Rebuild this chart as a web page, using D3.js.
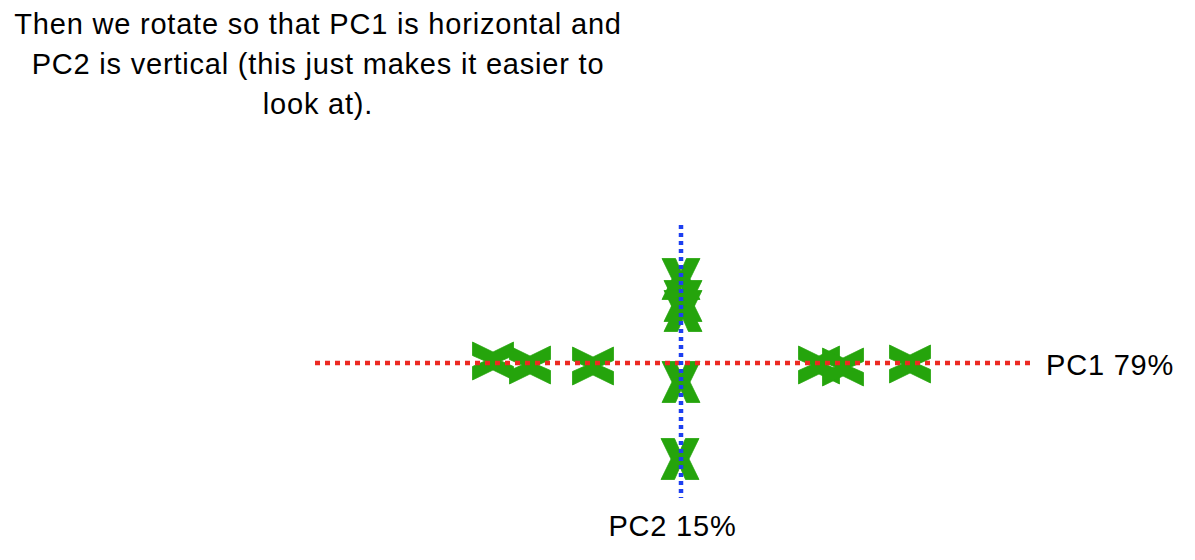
<!DOCTYPE html>
<html>
<head>
<meta charset="utf-8">
<script src="https://cdn.jsdelivr.net/npm/d3@7/dist/d3.min.js"></script>
<style>
  html, body { margin: 0; padding: 0; background: #fff; }
  svg { display: block; }
  text { font-family: "Liberation Sans", Arial, Helvetica, sans-serif; fill: #000; }
</style>
</head>
<body>
<svg id="chart" width="1195" height="560"></svg>
<script>
// ---- data ----
const titleLines = [
  "Then we rotate so that PC1 is horizontal and",
  "PC2 is vertical (this just makes it easier to",
  "look at)."
];
const axisLabels = ["PC1 79%", "PC2 15%"];
// samples lying along PC1 (drawn rotated)
const pc1GroupX = [-1.88, -1.51, -0.88, 1.38, 1.62, 2.29];
const pc1GroupY = [0.02, -0.02, -0.03, -0.02, -0.04, -0.01];
// samples lying along PC2
const pc2GroupX = [0.00, 0.02, 0.02, 0.00, -0.01];
const pc2GroupY = [0.84, 0.62, 0.52, -0.19, -0.96];
const pc1Extent = [-3.66, 3.49];
const pc2Extent = [-1.35, 1.38];

// ---- layout ----
const svg = d3.select("#chart");
const x = d3.scaleLinear().domain(pc1Extent).range([315, 1030]);
const y = d3.scaleLinear().domain(pc2Extent).range([498, 225]);

const green = "#25a40c", red = "#ec2a22", blue = "#1d3ff0";
const fontSize = "29px", spacing = "0.8px";

// title
const title = svg.append("text")
  .attr("text-anchor", "middle")
  .style("font-size", fontSize)
  .style("letter-spacing", spacing);
titleLines.forEach((t, i) => {
  title.append("tspan").attr("x", 318).attr("y", 34 + i * 40).text(t);
});

// X marker path (glyph-like X with flat cuts)
const xPath = "M-19,-20.5 L-5.5,-20.5 L0,-8 L5.5,-20.5 L19,-20.5 L9,0 L19,20.5 L5.5,20.5 L0,8 L-5.5,20.5 L-19,20.5 L-9,0 Z";

const pts1 = pc1GroupX.map((v, i) => ({ px: v, py: pc1GroupY[i], rot: 90 }));
const pts2 = pc2GroupX.map((v, i) => ({ px: v, py: pc2GroupY[i], rot: 0 }));
const allPts = pts1.concat(pts2);

svg.append("g").selectAll("path")
  .data(allPts)
  .join("path")
  .attr("d", xPath)
  .attr("transform", d => `translate(${x(d.px)},${y(d.py)}) rotate(${d.rot})`)
  .attr("fill", green)
  .attr("stroke", green)
  .attr("stroke-width", 0.8)
  .attr("stroke-linejoin", "miter");

// PC1 axis (red dotted)
svg.append("line")
  .attr("x1", x(pc1Extent[0])).attr("x2", x(pc1Extent[1]))
  .attr("y1", y(0)).attr("y2", y(0))
  .attr("stroke", red).attr("stroke-width", 4.5)
  .attr("stroke-dasharray", "5,5");

// PC2 axis (blue dotted)
svg.append("line")
  .attr("x1", x(0)).attr("x2", x(0))
  .attr("y1", y(pc2Extent[1])).attr("y2", y(pc2Extent[0]))
  .attr("stroke", blue).attr("stroke-width", 4.5)
  .attr("stroke-dasharray", "4,4");

// axis labels
svg.append("text")
  .attr("x", 1046).attr("y", 375)
  .style("font-size", fontSize)
  .style("letter-spacing", spacing)
  .text(axisLabels[0]);
svg.append("text")
  .attr("x", 672.5).attr("y", 536)
  .attr("text-anchor", "middle")
  .style("font-size", fontSize)
  .style("letter-spacing", spacing)
  .text(axisLabels[1]);
</script>
</body>
</html>
